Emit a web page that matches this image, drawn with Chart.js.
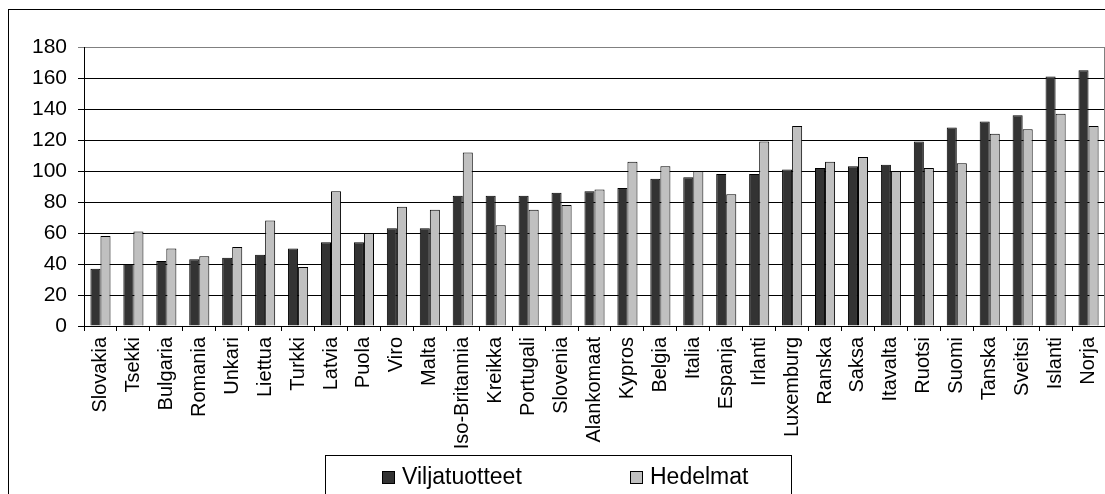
<!DOCTYPE html>
<html lang="fi">
<head>
    <meta charset="UTF-8">
    <title>Viljatuotteet ja hedelmat</title>
    <script src="https://cdn.jsdelivr.net/npm/chart.js"></script>
    <style>
        html, body { margin: 0; padding: 0; background: #fff; overflow: hidden; }
        #wrap { position: relative; width: 1105px; height: 494px; }
        #legend {
            position: absolute; left: 325px; top: 455px; width: 467px; height: 60px;
            border: 1px solid #000; box-sizing: border-box;
            font-family: "Liberation Sans", Arial, sans-serif; font-size: 23px; color: #000;
        }
        #legend .item { position: absolute; top: 7px; white-space: nowrap; }
        #legend .box {
            display: inline-block; width: 11px; height: 11px; border: 1px solid #000;
            margin-right: 7px; vertical-align: 0px;
        }
    </style>
</head>
<body>
    <div id="wrap">
        <canvas id="chart" width="1105" height="494"></canvas>
        <div id="legend"></div>
    </div>

    <script>
        const countries = ['Slovakia', 'Tsekki', 'Bulgaria', 'Romania', 'Unkari', 'Liettua', 'Turkki', 'Latvia',
            'Puola', 'Viro', 'Malta', 'Iso-Britannia', 'Kreikka', 'Portugali', 'Slovenia', 'Alankomaat',
            'Kypros', 'Belgia', 'Italia', 'Espanja', 'Irlanti', 'Luxemburg', 'Ranska', 'Saksa', 'Itavalta',
            'Ruotsi', 'Suomi', 'Tanska', 'Sveitsi', 'Islanti', 'Norja'];
        const viljatuotteet = [37, 40, 42, 43, 44, 46, 50, 54, 54, 63, 63, 84, 84, 84, 86, 87,
            89, 95, 96, 98, 98, 101, 102, 103, 104, 119, 128, 132, 136, 161, 165];
        const hedelmat = [58, 61, 50, 45, 51, 68, 38, 87, 60, 77, 75, 112, 65, 75, 78, 88,
            106, 103, 100, 85, 119, 129, 106, 109, 100, 102, 105, 124, 127, 137, 129];
        const seriesNames = ['Viljatuotteet', 'Hedelmat'];
        const seriesColors = ['#333333', '#c0c0c0'];
        const yMax = 180;
        const yStep = 20;

        const font = 'Liberation Sans, Arial, sans-serif';

        // outer frame + grey plot area border (right side)
        const framePlugin = {
            id: 'frame',
            beforeDraw(chart) {
                const ctx = chart.ctx;
                ctx.save();
                ctx.fillStyle = '#fff';
                ctx.fillRect(0, 0, chart.width, chart.height);
                ctx.strokeStyle = '#000';
                ctx.lineWidth = 1;
                ctx.strokeRect(8.5, 9.5, 1200, 600);
                ctx.restore();
            },
            afterDatasetsDraw(chart) {
                const a = chart.chartArea;
                const ctx = chart.ctx;
                ctx.save();
                ctx.strokeStyle = '#808080';
                ctx.lineWidth = 1;
                ctx.beginPath();
                ctx.moveTo(a.right - 0.5, a.top);
                ctx.lineTo(a.right - 0.5, a.bottom);
                ctx.stroke();
                ctx.restore();
            }
        };

        const chart = new Chart(document.getElementById('chart'), {
            type: 'bar',
            data: {
                labels: countries,
                datasets: [
                    { label: seriesNames[0], data: viljatuotteet, backgroundColor: seriesColors[0] },
                    { label: seriesNames[1], data: hedelmat, backgroundColor: seriesColors[1] }
                ]
            },
            options: {
                responsive: false,
                animation: false,
                events: [],
                layout: { padding: { left: 0, right: 0, top: 47, bottom: 0 } },
                datasets: {
                    bar: {
                        borderColor: '#000',
                        borderWidth: 1,
                        categoryPercentage: 0.61,
                        barPercentage: 1.0
                    }
                },
                plugins: {
                    legend: { display: false },
                    tooltip: { enabled: false }
                },
                scales: {
                    x: {
                        grid: {
                            drawOnChartArea: false,
                            drawTicks: true,
                            tickLength: 5,
                            color: '#000'
                        },
                        border: { color: '#000', width: 1 },
                        ticks: {
                            autoSkip: false,
                            minRotation: 90,
                            maxRotation: 90,
                            padding: 6,
                            color: '#000',
                            font: { family: font, size: 20 }
                        },
                        afterFit(scale) {
                            scale.height = 168;
                            // keep the plot reaching the right edge
                            scale.paddingLeft = 0;
                            scale.paddingRight = 0;
                        }
                    },
                    y: {
                        min: 0,
                        max: yMax,
                        grid: {
                            tickLength: 6,
                            color: c => c.tick && c.tick.value === yMax ? '#808080' : '#000'
                        },
                        border: { color: '#000', width: 1 },
                        ticks: {
                            stepSize: yStep,
                            padding: 11,
                            color: '#000',
                            font: { family: font, size: 21 }
                        },
                        afterFit(scale) { scale.width = 84; }
                    }
                }
            },
            plugins: [framePlugin]
        });

        // legend box as html, built from the datasets
        const legend = document.getElementById('legend');
        const itemLeft = [56, 304];
        chart.data.datasets.forEach((ds, i) => {
            const item = document.createElement('div');
            item.className = 'item';
            item.style.left = itemLeft[i] + 'px';
            item.innerHTML = '<span class="box" style="background:' + ds.backgroundColor + '"></span>' + ds.label;
            legend.appendChild(item);
        });
    </script>
</body>
</html>
